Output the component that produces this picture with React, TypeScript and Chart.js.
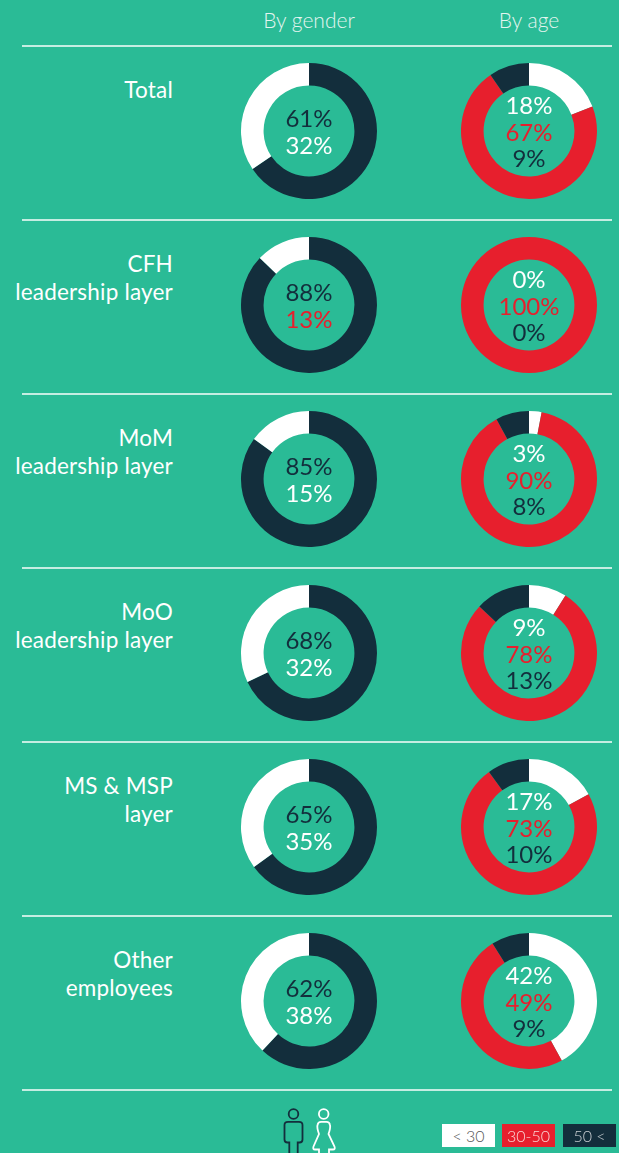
import React, { useEffect, useRef } from "react";
import { Chart, registerables } from "chart.js";

Chart.register(...registerables);

const rowLabels = [["Total"], ["CFH", "leadership layer"], ["MoM", "leadership layer"], ["MoO", "leadership layer"], ["MS & MSP", "layer"], ["Other", "employees"]];
const genderDark = [61, 88, 85, 68, 65, 62];
const genderWhite = [32, 13, 15, 32, 35, 38];
const ageUnder30 = [18, 0, 3, 9, 17, 42];
const age30to50 = [67, 100, 90, 78, 73, 49];
const age50Plus = [9, 0, 8, 13, 10, 9];
const headers = ["By gender", "By age"];
const legendLabels = ["< 30", "30-50", "50 <"];

const BG = "#2ABB96";
const DARK = "#132E3C";
const RED = "#E71F2D";
const WHITE = "#FFFFFF";
const FONT = "Lato, sans-serif";
const SIZE = 140;
const GX = 309;
const AX = 529;

function Donut({ values, colors, cx, cy }: { values: number[]; colors: string[]; cx: number; cy: number }) {
  const ref = useRef<HTMLCanvasElement>(null);
  useEffect(() => {
    const chart = new Chart(ref.current!, {
      type: "doughnut",
      data: { labels: values.map((_, i) => String(i)), datasets: [{ data: values, backgroundColor: colors, borderWidth: 0 }] },
      options: {
        animation: false,
        responsive: false,
        radius: 68,
        cutout: "66.8%",
        plugins: { legend: { display: false }, tooltip: { enabled: false } },
      },
    });
    return () => chart.destroy();
  }, []);
  return (
    <canvas
      ref={ref}
      width={SIZE}
      height={SIZE}
      style={{ position: "absolute", left: cx - SIZE / 2, top: cy - SIZE / 2, width: SIZE, height: SIZE }}
    />
  );
}

function Txt({ x, y, color, size, align, weight, spacing, children }: any) {
  const w = 300;
  const left = align === "right" ? x - w : x - w / 2;
  return (
    <div
      style={{
        position: "absolute", left, top: y - 20, width: w, height: 40, lineHeight: "40px",
        textAlign: align === "right" ? "right" : "center", color, fontSize: size,
        fontFamily: FONT, fontWeight: weight ?? 400, whiteSpace: "pre", letterSpacing: spacing ?? 0,
      }}
    >
      {children}
    </div>
  );
}

export default function App() {
  const rowCy = (i: number) => 131 + i * 174;
  const P = 24;
  return (
    <div style={{ position: "absolute", left: 0, top: 0, width: 619, height: 1153, background: BG, overflow: "hidden" }}>
      <Txt x={GX} y={20} color="#E4F5F0" size={21} weight={300}>{headers[0]}</Txt>
      <Txt x={AX} y={20} color="#E4F5F0" size={21} weight={300}>{headers[1]}</Txt>
      {[0, 1, 2, 3, 4, 5, 6].map((i) => (
        <div key={i} style={{ position: "absolute", left: 22, width: 590, top: 45 + i * 174, height: 2, background: "#C5EDE2" }} />
      ))}
      {rowLabels.map((lines, i) => {
        const cy = rowCy(i);
        return (
          <React.Fragment key={i}>
            {lines.map((l, j) => (
              <Txt key={j} x={173} y={cy - 41 + j * 27.5} color={WHITE} size={22.5} spacing={0.2} align="right">{l}</Txt>
            ))}
            <Donut values={[genderDark[i], genderWhite[i]]} colors={[DARK, WHITE]} cx={GX} cy={cy} />
            <Donut values={[ageUnder30[i], age30to50[i], age50Plus[i]]} colors={[WHITE, RED, DARK]} cx={AX} cy={cy} />
            <Txt x={GX} y={cy - 13} color={DARK} size={P}>{genderDark[i]}%</Txt>
            <Txt x={GX} y={cy + 14} color={i === 1 ? RED : WHITE} size={P}>{genderWhite[i]}%</Txt>
            <Txt x={AX} y={cy - 26} color={WHITE} size={P}>{ageUnder30[i]}%</Txt>
            <Txt x={AX} y={cy + 1} color={RED} size={P}>{age30to50[i]}%</Txt>
            <Txt x={AX} y={cy + 27} color={DARK} size={P}>{age50Plus[i]}%</Txt>
          </React.Fragment>
        );
      })}
      <svg width={619} height={1153} style={{ position: "absolute", left: 0, top: 0 }} fill="none" strokeWidth={1.8}>
        <g stroke={DARK}>
          <circle cx={293.5} cy={1114} r={4.8} />
          <path d="M289.3 1153 V1142.5 H287.5 Q284.5 1142.5 284.5 1139.5 V1125 Q284.5 1121.8 288 1121.8 H299 Q302.5 1121.8 302.5 1125 V1139.5 Q302.5 1142.5 299.5 1142.5 H297.7 V1153" />
        </g>
        <g stroke={WHITE}>
          <circle cx={323.7} cy={1114} r={4.8} />
          <path d="M319 1153 V1149.5 H315 Q312.5 1149.5 313.5 1146.5 L319 1134 Q316.8 1128 317.5 1125 Q318 1121.8 321 1121.8 H326.5 Q329.5 1121.8 330 1125 Q330.7 1128 328.5 1134 L334.5 1146.5 Q335.5 1149.5 333 1149.5 H329 V1153" />
        </g>
      </svg>
      {[
        { x: 442, w: 53, bg: WHITE, c: "#555" },
        { x: 502, w: 53, bg: RED, c: "#F9D5D5" },
        { x: 563, w: 53, bg: DARK, c: "#C9CFD3" },
      ].map((b, i) => (
        <div
          key={i}
          style={{
            position: "absolute", left: b.x, top: 1124, width: b.w, height: 23, lineHeight: "23px", background: b.bg,
            color: b.c, fontFamily: FONT, fontSize: 16, fontWeight: 300, textAlign: "center",
          }}
        >
          {legendLabels[i]}
        </div>
      ))}
    </div>
  );
}
